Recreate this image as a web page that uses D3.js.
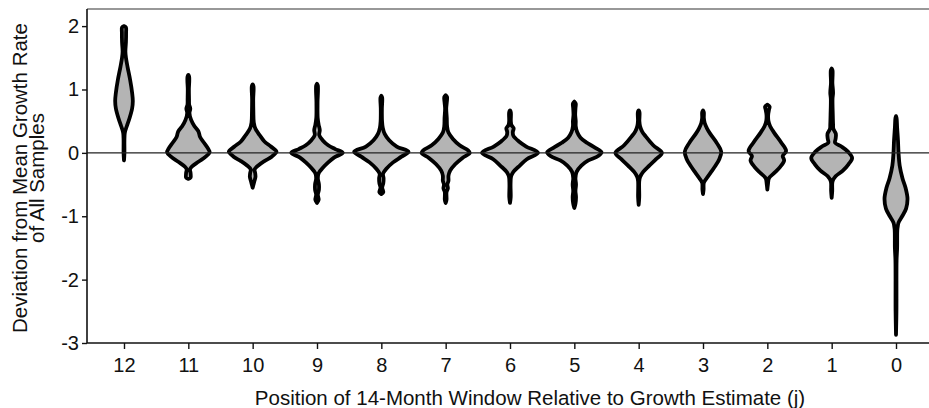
<!DOCTYPE html>
<html>
<head>
<meta charset="utf-8">
<script src="https://cdn.jsdelivr.net/npm/d3@7"></script>
<style>
  body { margin: 0; background: #fff; }
  text { font-family: "Liberation Sans", Arial, sans-serif; }
</style>
</head>
<body>
<div id="chart"></div>
<script>
// categories (position of window, j)
var positions = ["12","11","10","9","8","7","6","5","4","3","2","1","0"]

var yTicks = [-3, -2, -1, 0, 1, 2]

// violin profiles: [deviation, relative density]
var v12 = [[2.00,0],[1.98,0.07],[1.9,0.075],[1.75,0.07],[1.6,0.05],[1.5,0.07],[1.35,0.13],[1.15,0.22],[0.95,0.29],[0.82,0.315],[0.7,0.29],[0.55,0.2],[0.42,0.1],[0.32,0.03],[0.2,0.015],[0,0.015],[-0.12,0]]
var v11 = [[1.23,0],[1.2,0.03],[1.0,0.02],[0.85,0.025],[0.76,0.03],[0.7,0.07],[0.63,0.04],[0.52,0.1],[0.42,0.22],[0.34,0.36],[0.25,0.42],[0.16,0.56],[0.07,0.7],[0.01,0.76],[-0.06,0.62],[-0.14,0.36],[-0.22,0.12],[-0.26,0.06],[-0.32,0.08],[-0.39,0.08],[-0.41,0]]
var v10 = [[1.08,0],[1.05,0.03],[0.85,0.02],[0.65,0.025],[0.48,0.04],[0.38,0.1],[0.28,0.25],[0.18,0.42],[0.1,0.65],[0.02,0.85],[-0.06,0.68],[-0.13,0.42],[-0.2,0.2],[-0.26,0.07],[-0.32,0.09],[-0.38,0.1],[-0.45,0.06],[-0.5,0.03],[-0.55,0]]
var v9 = [[1.09,0],[1.06,0.03],[0.8,0.02],[0.55,0.025],[0.44,0.06],[0.36,0.1],[0.28,0.08],[0.2,0.2],[0.12,0.4],[0.06,0.65],[0.0,0.92],[-0.07,0.62],[-0.15,0.4],[-0.24,0.2],[-0.32,0.06],[-0.4,0.03],[-0.5,0.07],[-0.58,0.07],[-0.66,0.03],[-0.74,0.06],[-0.79,0]]
var v8 = [[0.9,0],[0.87,0.03],[0.7,0.02],[0.5,0.025],[0.4,0.05],[0.3,0.12],[0.2,0.28],[0.1,0.55],[0.02,0.97],[-0.06,0.72],[-0.15,0.42],[-0.25,0.18],[-0.33,0.06],[-0.4,0.08],[-0.48,0.07],[-0.55,0.03],[-0.62,0.07],[-0.65,0]]
var v7 = [[0.91,0],[0.88,0.05],[0.8,0.04],[0.7,0.02],[0.55,0.04],[0.42,0.05],[0.32,0.1],[0.22,0.26],[0.12,0.5],[0.04,0.8],[0.0,0.86],[-0.08,0.6],[-0.18,0.34],[-0.28,0.16],[-0.36,0.1],[-0.44,0.1],[-0.5,0.06],[-0.56,0.08],[-0.62,0.03],[-0.74,0.03],[-0.79,0]]
var v6 = [[0.67,0],[0.64,0.03],[0.5,0.03],[0.44,0.05],[0.39,0.13],[0.33,0.1],[0.27,0.12],[0.18,0.32],[0.1,0.58],[0.0,1.0],[-0.1,0.6],[-0.2,0.35],[-0.3,0.12],[-0.37,0.04],[-0.5,0.02],[-0.7,0.025],[-0.79,0]]
var v5 = [[0.81,0],[0.78,0.05],[0.7,0.04],[0.6,0.03],[0.5,0.05],[0.42,0.05],[0.33,0.1],[0.24,0.22],[0.16,0.45],[0.08,0.75],[0.01,0.97],[-0.05,0.85],[-0.12,0.5],[-0.2,0.25],[-0.3,0.08],[-0.4,0.04],[-0.5,0.06],[-0.6,0.04],[-0.7,0.06],[-0.8,0.04],[-0.87,0]]
var v4 = [[0.67,0],[0.64,0.03],[0.5,0.025],[0.42,0.05],[0.34,0.12],[0.26,0.25],[0.12,0.52],[0.0,0.83],[-0.1,0.62],[-0.2,0.38],[-0.3,0.16],[-0.38,0.05],[-0.45,0.02],[-0.7,0.02],[-0.82,0]]
var v3 = [[0.67,0],[0.64,0.03],[0.55,0.03],[0.47,0.06],[0.38,0.15],[0.3,0.26],[0.15,0.5],[0.02,0.65],[-0.1,0.58],[-0.2,0.45],[-0.3,0.29],[-0.4,0.13],[-0.47,0.03],[-0.58,0.02],[-0.65,0]]
var v2 = [[0.76,0],[0.73,0.08],[0.68,0.06],[0.6,0.03],[0.5,0.04],[0.42,0.1],[0.32,0.24],[0.16,0.5],[0.03,0.67],[-0.05,0.55],[-0.12,0.6],[-0.22,0.46],[-0.32,0.24],[-0.4,0.06],[-0.5,0.02],[-0.58,0]]
var v1 = [[1.33,0],[1.3,0.03],[1.1,0.025],[0.95,0.05],[0.85,0.03],[0.6,0.04],[0.45,0.05],[0.38,0.06],[0.3,0.15],[0.22,0.14],[0.16,0.12],[0.1,0.35],[0.02,0.58],[-0.08,0.73],[-0.18,0.6],[-0.28,0.4],[-0.37,0.14],[-0.45,0.03],[-0.6,0.02],[-0.71,0]]
var v0 = [[0.58,0],[0.55,0.02],[0.4,0.04],[0.2,0.07],[0.0,0.09],[-0.2,0.13],[-0.4,0.23],[-0.55,0.34],[-0.72,0.41],[-0.88,0.36],[-1.0,0.22],[-1.1,0.09],[-1.2,0.05],[-1.5,0.04],[-1.7,0.02],[-2.5,0.015],[-2.87,0]]

var violins = [v12, v11, v10, v9, v8, v7, v6, v5, v4, v3, v2, v1, v0]

var width = 929, height = 408
var margin = {top: 9, left: 87, bottom: 65}

var svg = d3.select("#chart").append("svg")
    .attr("width", width)
    .attr("height", height)

var x = d3.scalePoint()
  .domain(positions)
  .range([margin.left, 933])
  .padding(0.575)

var y = d3.scaleLinear()
  .domain([-3, 2.27])
  .range([height - margin.bottom, margin.top])

// density -> half width in pixels
var w = d3.scaleLinear().domain([0, 1]).range([0, 28])

var area = d3.area()
  .y(function(d) { return y(d[0]) })
  .curve(d3.curveCatmullRom.alpha(0.5))

violins.forEach(function(prof, i) {
  var cx = x(positions[i])
  area.x0(function(d) { return cx - w(d[1]) })
      .x1(function(d) { return cx + w(d[1]) })
  svg.append("path")
    .attr("d", area(prof))
    .attr("fill", "#b4b4b4")
    .attr("stroke", "#000")
    .attr("stroke-width", 3.8)
    .attr("stroke-linejoin", "round")
})

// zero line
svg.append("line")
  .attr("x1", margin.left).attr("x2", width)
  .attr("y1", y(0)).attr("y2", y(0))
  .attr("stroke", "#222").attr("stroke-width", 1.2)

// top border
svg.append("line")
  .attr("x1", margin.left).attr("x2", width)
  .attr("y1", margin.top).attr("y2", margin.top)
  .attr("stroke", "#333").attr("stroke-width", 1.2)

// y axis
var yAxis = svg.append("g")
  .attr("transform", "translate(" + margin.left + ",0)")
  .call(d3.axisLeft(y).tickValues(yTicks).tickSize(5).tickPadding(3).tickFormat(d3.format("d")))
yAxis.select(".domain").attr("stroke", "#111").attr("stroke-width", 1.6)
  .attr("d", "M0," + y(-3) + "V" + margin.top)
yAxis.selectAll(".tick line").attr("stroke", "#111").attr("stroke-width", 1.4)
yAxis.selectAll("text").style("font-size", "20px").attr("fill", "#111")
  .text(function(d) { return d < 0 ? "-" + Math.abs(d) : d })

// x axis
var xAxis = svg.append("g")
  .attr("transform", "translate(0," + y(-3) + ")")
  .call(d3.axisBottom(x).tickSize(6).tickPadding(9))
xAxis.select(".domain").attr("stroke", "#111").attr("stroke-width", 1.6)
  .attr("d", "M" + margin.left + ",0H" + width)
xAxis.selectAll(".tick line").attr("stroke", "#111").attr("stroke-width", 1.4)
xAxis.selectAll("text").style("font-size", "20px").attr("fill", "#111")

// axis titles
svg.append("text")
  .attr("x", 530).attr("y", 405)
  .attr("text-anchor", "middle")
  .style("font-size", "20.5px").attr("fill", "#111")
  .text("Position of 14-Month Window Relative to Growth Estimate (j)")

var yt = svg.append("text")
  .attr("transform", "translate(27,178) rotate(-90)")
  .attr("text-anchor", "middle")
  .style("font-size", "20.5px").attr("fill", "#111")
yt.append("tspan").attr("x", 0).attr("dy", 0).text("Deviation from Mean Growth Rate")
yt.append("tspan").attr("x", 0).attr("dy", 17).text("of All Samples")
</script>
</body>
</html>
